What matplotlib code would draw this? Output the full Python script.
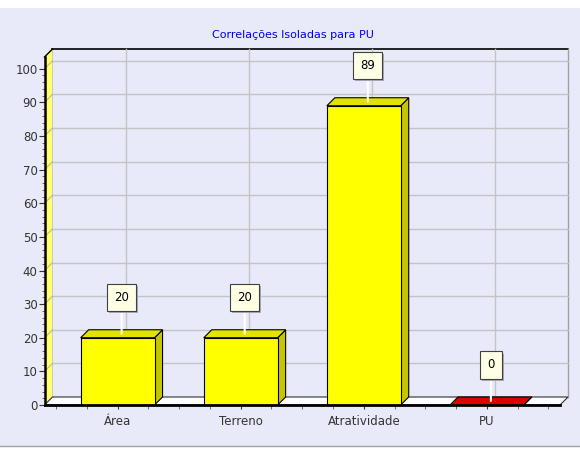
import matplotlib
matplotlib.use('Agg')
import matplotlib.pyplot as plt
import matplotlib.patheffects as pe
from matplotlib.patches import Polygon, Rectangle
from matplotlib.lines import Line2D
import numpy as np

plt.rcParams['font.family'] = ['DejaVu Sans']

categories = ['Área', 'Terreno', 'Atratividade', 'PU']
values = [20, 20, 89, 0]
bar_colors = ['#FFFF00', '#FFFF00', '#FFFF00', '#EE0000']
top_colors = ['#E3E300', '#E3E300', '#E3E300', '#DD0000']
side_colors = ['#C4C400', '#C4C400', '#C4C400', '#AA0000']
title = 'Correlações Isoladas para PU'

BG = '#E8EAFA'
GRID = '#C4C4C4'
W, H = 580, 450
DEPTH = 8  # 3d offset in pixels

fig = plt.figure(figsize=(W / 100, H / 100), dpi=100, facecolor=BG)
# white strip on top + grey frame line at bottom
fig.patches.append(Rectangle((0, 1 - 8 / H), 1, 8 / H, transform=fig.transFigure,
                             facecolor='white', edgecolor='none'))
fig.lines.append(Line2D([0, 1], [1 - 446 / H] * 2, transform=fig.transFigure,
                        color='#A0A0A0', lw=1))
fig.patches.append(Rectangle((0, 0), 1, 1 - 447 / H, transform=fig.transFigure,
                             facecolor='white', edgecolor='none'))

x0, x1 = 44.5, 560      # front plane, pixels
y0, y1 = 405, 57
ax = fig.add_axes([x0 / W, 1 - y0 / H, (x1 - x0) / W, (y0 - y1) / H])
ax.set_facecolor('none')

x = np.arange(len(categories))
xl, xr = -0.594, 3.594
ymax = 103.5
ax.set_xlim(xl, xr)
ax.set_ylim(0, ymax)

# 3d offset in data units
inv = ax.transData.inverted()
p0 = ax.transData.transform((0, 0))
p1 = inv.transform((p0[0] + DEPTH, p0[1] + DEPTH))
dx, dy = p1[0], p1[1]

# back wall
ax.add_patch(Rectangle((xl + dx, dy), xr - xl, ymax, facecolor=BG,
                       edgecolor='none', clip_on=False, zorder=0))
ax.plot([xl + dx, xr + dx], [ymax + dy] * 2, color='black', lw=1.2,
        clip_on=False, zorder=1)
ax.plot([xr + dx] * 2, [dy, ymax + dy], color='#A0A0A0', lw=1,
        clip_on=False, zorder=1)

# left wall
ax.add_patch(Polygon([(xl, 0), (xl, ymax), (xl + dx, ymax + dy), (xl + dx, dy)],
                     closed=True, facecolor='#FFFF70', edgecolor='none',
                     clip_on=False, zorder=1))
ax.plot([xl, xl + dx], [ymax, ymax + dy], color='black', lw=1,
        clip_on=False, zorder=2)
ax.plot([xl + dx] * 2, [dy, ymax + dy], color='#C8C8A0', lw=0.6,
        clip_on=False, zorder=1)

# grid lines
yticks = np.arange(10, 101, 10)
for yv in yticks:
    ax.plot([xl + dx, xr + dx], [yv + dy] * 2, color=GRID, lw=1,
            clip_on=False, zorder=1)
    ax.plot([xl, xl + dx], [yv, yv + dy], color='#B8B8A0', lw=0.8,
            clip_on=False, zorder=1)
for xv in x:
    ax.plot([xv + dx] * 2, [dy, ymax + dy], color=GRID, lw=1,
            clip_on=False, zorder=1)

# floor
ax.add_patch(Polygon([(xl, 0), (xr, 0), (xr + dx, dy), (xl + dx, dy)],
                     closed=True, facecolor='white', edgecolor='#303030',
                     lw=0.8, clip_on=False, zorder=2))

# bars
bw = 0.6
for xi, v, fc, tc, sc in zip(x, values, bar_colors, top_colors, side_colors):
    a, b = xi - bw / 2, xi + bw / 2
    ax.add_patch(Polygon([(b, 0), (b + dx, dy), (b + dx, v + dy), (b, v)],
                         closed=True, facecolor=sc, edgecolor='black', lw=0.8,
                         clip_on=False, zorder=3))
    ax.add_patch(Polygon([(a, v), (b, v), (b + dx, v + dy), (a + dx, v + dy)],
                         closed=True, facecolor=tc, edgecolor='black', lw=0.8,
                         clip_on=False, zorder=3))
    if v > 0:
        ax.add_patch(Rectangle((a, 0), bw, v, facecolor=fc, edgecolor='black',
                               lw=0.8, zorder=4))
    ann = ax.annotate(str(v), xy=(xi + dx / 2, v + dy / 2), xytext=(0, 36),
                      textcoords='offset pixels', ha='center', va='center',
                      fontsize=8.5, color='black', zorder=6,
                      bbox=dict(boxstyle='square,pad=0.6', fc='#FFFFE6',
                                ec='#404040', lw=0.8),
                      arrowprops=dict(arrowstyle='-', color='white', lw=1.5,
                                      shrinkA=0, shrinkB=0))
    ann.get_bbox_patch().set_path_effects([
        pe.SimplePatchShadow(offset=(1.5, -1.5), shadow_rgbFace='#A8A8B8',
                             alpha=1.0),
        pe.Normal()])

# axes
for s in ['top', 'right']:
    ax.spines[s].set_visible(False)
ax.spines['left'].set_linewidth(1.8)
ax.spines['bottom'].set_linewidth(2.0)
ax.spines['left'].set_zorder(5)
ax.spines['bottom'].set_zorder(5)

ax.set_yticks(np.arange(0, 101, 10))
ax.set_yticks(np.arange(0, 101, 2), minor=True)
ax.set_xticks(x)
ax.set_xticklabels(categories)
ax.set_xticks(np.arange(-0.5, 3.51, 0.25), minor=True)
ax.tick_params(axis='y', which='major', length=4, width=0.8, labelsize=8.5,
               colors='#333333', pad=1)
ax.tick_params(axis='y', which='minor', length=2, width=0.6, color='#555555')
ax.tick_params(axis='x', which='major', length=3, width=0.8, labelsize=8.5,
               colors='#333333', pad=4)
ax.tick_params(axis='x', which='minor', length=3, width=0.6, color='#555555')

fig.text(0.505, 1 - 35 / H, title, ha='center', va='center', fontsize=8,
         color='#0000EE')

fig.savefig('out.png', dpi=100, facecolor=fig.get_facecolor())
